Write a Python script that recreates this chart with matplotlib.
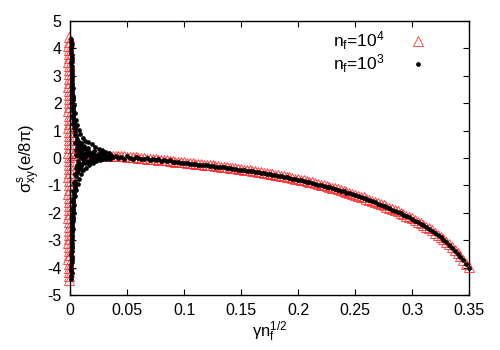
import numpy as np
import matplotlib
matplotlib.use("Agg")
import matplotlib.pyplot as plt

plt.rcParams['font.family'] = ['Liberation Sans', 'DejaVu Sans']
plt.rcParams['mathtext.fontset'] = 'custom'
plt.rcParams['mathtext.rm'] = 'Liberation Sans'
plt.rcParams['mathtext.it'] = 'Liberation Sans'
plt.rcParams['axes.unicode_minus'] = False

# n_f = 10^4 : column of oscillating points at gamma ~ 0
red_col_x = [-0.0013, -0.0008, -0.0015, -0.0010, -0.0012, -0.0006, -0.0014, -0.0009,
             -0.0011, -0.0007, -0.0013, -0.0010, -0.0015, -0.0008, -0.0012, -0.0009]
red_col_y = [4.40, 4.25, 4.10, 3.95, 3.80, 3.65, 3.50, 3.35, 3.20, 3.05, 2.90, 2.75,
             2.60, 2.45, 2.30, 2.15, 2.00, 1.85, 1.70, 1.55, 1.40, 1.25, 1.10, 0.95,
             0.80, 0.65, 0.50, 0.35, 0.20, 0.05, -0.10, -0.25, -0.40, -0.55, -0.70,
             -0.85, -1.00, -1.15, -1.30, -1.45, -1.60, -1.75, -1.90, -2.05, -2.20,
             -2.35, -2.50, -2.65, -2.80, -2.95, -3.10, -3.25, -3.40, -3.55, -3.70,
             -3.85, -4.00, -4.15, -4.30, -4.45]

# common gamma grid of the smooth branch
gamma = [0.0025, 0.0050, 0.0075, 0.0100, 0.0125, 0.0150, 0.0175, 0.0200, 0.0225,
         0.0250, 0.0275, 0.0300, 0.0325, 0.0350, 0.0375,
         0.0400, 0.0425, 0.0450, 0.0475, 0.0500, 0.0525, 0.0550, 0.0575, 0.0600,
         0.0625, 0.0650, 0.0675, 0.0700, 0.0725, 0.0750, 0.0775, 0.0800, 0.0825,
         0.0850, 0.0875, 0.0900, 0.0925, 0.0950, 0.0975, 0.1000, 0.1025, 0.1050,
         0.1075, 0.1100, 0.1125, 0.1150, 0.1175, 0.1200, 0.1225, 0.1250, 0.1275,
         0.1300, 0.1325, 0.1350, 0.1375, 0.1400, 0.1425, 0.1450, 0.1475, 0.1500,
         0.1525, 0.1550, 0.1575, 0.1600, 0.1625, 0.1650, 0.1675, 0.1700, 0.1725,
         0.1750, 0.1775, 0.1800, 0.1825, 0.1850, 0.1875, 0.1900, 0.1925, 0.1950,
         0.1975, 0.2000, 0.2025, 0.2050, 0.2075, 0.2100, 0.2125, 0.2150, 0.2175,
         0.2200, 0.2225, 0.2250, 0.2275, 0.2300, 0.2325, 0.2350, 0.2375, 0.2400,
         0.2425, 0.2450, 0.2475, 0.2500, 0.2525, 0.2550, 0.2575, 0.2600, 0.2625,
         0.2650, 0.2675, 0.2700, 0.2725, 0.2750, 0.2775, 0.2800, 0.2825, 0.2850,
         0.2875, 0.2900, 0.2925, 0.2950, 0.2975, 0.3000, 0.3025, 0.3050, 0.3075,
         0.3100, 0.3125, 0.3150, 0.3175, 0.3200, 0.3225, 0.3250, 0.3275, 0.3300,
         0.3325, 0.3350, 0.3375, 0.3400, 0.3425, 0.3450, 0.3475, 0.3500]

# n_f = 10^4 : smooth branch (on the full grid)
red_y = [0.12, 0.12, 0.11, 0.11, 0.11, 0.11, 0.10, 0.10, 0.10,
         0.10, 0.10, 0.10, 0.10, 0.09, 0.09,
         0.09, 0.08, 0.07, 0.06, 0.05, 0.04, 0.03, 0.02, 0.01,
         0.00, -0.01, -0.02, -0.03, -0.04, -0.05, -0.06, -0.07, -0.08,
         -0.09, -0.10, -0.12, -0.13, -0.14, -0.15, -0.16, -0.17, -0.18,
         -0.19, -0.20, -0.21, -0.23, -0.24, -0.25, -0.26, -0.27, -0.28,
         -0.30, -0.31, -0.32, -0.34, -0.35, -0.36, -0.38, -0.39, -0.41,
         -0.42, -0.44, -0.45, -0.47, -0.48, -0.50, -0.52, -0.54, -0.55,
         -0.57, -0.59, -0.61, -0.62, -0.64, -0.66, -0.68, -0.70, -0.73,
         -0.75, -0.77, -0.79, -0.82, -0.84, -0.87, -0.89, -0.92, -0.94,
         -0.97, -0.99, -1.02, -1.05, -1.08, -1.11, -1.14, -1.17, -1.20,
         -1.23, -1.27, -1.30, -1.34, -1.37, -1.41, -1.44, -1.48, -1.52,
         -1.56, -1.60, -1.64, -1.68, -1.72, -1.77, -1.81, -1.86, -1.90,
         -1.95, -2.00, -2.05, -2.10, -2.15, -2.20, -2.26, -2.32, -2.38,
         -2.44, -2.50, -2.57, -2.64, -2.72, -2.80, -2.88, -2.97, -3.06,
         -3.15, -3.25, -3.36, -3.47, -3.59, -3.71, -3.85, -3.98]

# n_f = 10^3 : smooth branch (grid from 0.04 on)
black_y = [0.07, 0.00, 0.04, -0.02, 0.06, 0.00, -0.03, 0.03, 0.01,
           -0.05, -0.03, 0.00, -0.07, -0.04, -0.08, -0.03, -0.10, -0.07,
           -0.12, -0.09, -0.14, -0.15, -0.16, -0.17, -0.18, -0.19, -0.20,
           -0.21, -0.22, -0.24, -0.25, -0.26, -0.27, -0.28, -0.29, -0.31,
           -0.32, -0.33, -0.34, -0.36, -0.37, -0.39, -0.40, -0.42, -0.43,
           -0.45, -0.46, -0.48, -0.49, -0.51, -0.52, -0.54, -0.56, -0.58,
           -0.59, -0.61, -0.63, -0.65, -0.66, -0.68, -0.70, -0.73, -0.75,
           -0.77, -0.79, -0.82, -0.84, -0.87, -0.89, -0.92, -0.94, -0.97,
           -0.99, -1.02, -1.04, -1.07, -1.10, -1.13, -1.16, -1.19, -1.22,
           -1.26, -1.29, -1.33, -1.36, -1.40, -1.43, -1.47, -1.50, -1.54,
           -1.58, -1.62, -1.66, -1.70, -1.74, -1.79, -1.83, -1.88, -1.92,
           -1.97, -2.02, -2.07, -2.12, -2.17, -2.22, -2.28, -2.34, -2.40,
           -2.46, -2.52, -2.59, -2.66, -2.74, -2.82, -2.90, -2.99, -3.08,
           -3.17, -3.27, -3.38, -3.49, -3.61, -3.73, -3.86, -4.00]

# n_f = 10^3 : oscillating part near gamma ~ 0
black_osc_x = [0.0012, 0.0014, 0.0012, 0.0016, 0.0014, 0.0018, 0.0016, 0.0020, 0.0018,
               0.0024, 0.0020, 0.0028, 0.0022, 0.0032, 0.0026, 0.0040, 0.0030, 0.0050,
               0.0034, 0.0062, 0.0040, 0.0075, 0.0046, 0.0090, 0.0055, 0.0110, 0.0065,
               0.0130, 0.0160, 0.0080, 0.0190, 0.0100, 0.0220, 0.0120, 0.0250, 0.0280,
               0.0150, 0.0310, 0.0175, 0.0340, 0.0205, 0.0235, 0.0265, 0.0295,
               0.0012, 0.0014, 0.0012, 0.0016, 0.0014, 0.0018, 0.0016, 0.0020, 0.0018,
               0.0024, 0.0020, 0.0028, 0.0022, 0.0032, 0.0026, 0.0038, 0.0030, 0.0046,
               0.0034, 0.0056, 0.0040, 0.0066, 0.0046, 0.0080, 0.0055, 0.0095, 0.0065,
               0.0115, 0.0140, 0.0080, 0.0170, 0.0100, 0.0200, 0.0230, 0.0125, 0.0260,
               0.0290, 0.0320,
               0.0050, 0.0070, 0.0090, 0.0110, 0.0130, 0.0160, 0.0180, 0.0210, 0.0240,
               0.0270, 0.0300, 0.0330, 0.0360, 0.0380, 0.0355, 0.0085, 0.0105, 0.0145,
               0.0060, 0.0120, 0.0195,
               0.0010, 0.0013, 0.0011, 0.0015, 0.0013, 0.0017, 0.0015, 0.0019, 0.0017,
               0.0021, 0.0019, 0.0024, 0.0021, 0.0027, 0.0024, 0.0030, 0.0027, 0.0036,
               0.0030, 0.0044,
               0.0010, 0.0013, 0.0011, 0.0015, 0.0013, 0.0017, 0.0015, 0.0019, 0.0017,
               0.0021, 0.0019, 0.0024, 0.0021, 0.0027, 0.0024, 0.0030, 0.0027, 0.0036,
               0.0030, 0.0044,
               0.0070, 0.0095, 0.0115, 0.0135, 0.0150, 0.0170, 0.0185, 0.0225, 0.0255,
               0.0285, 0.0315, 0.0345, 0.0075, 0.0100, 0.0140, 0.0165, 0.0215, 0.0245,
               0.0035, 0.0045, 0.0040, 0.0055, 0.0050, 0.0065, 0.0060, 0.0080, 0.0075,
               0.0090, 0.0105, 0.0120, 0.0035, 0.0045, 0.0050, 0.0060, 0.0070, 0.0085,
               0.0100, 0.0130, 0.0155, 0.0180]
black_osc_y = [4.35, 4.15, 3.95, 3.75, 3.55, 3.35, 3.15, 2.95, 2.75,
               2.55, 2.40, 2.25, 2.10, 1.95, 1.80, 1.65, 1.52, 1.40,
               1.30, 1.20, 1.10, 1.02, 0.95, 0.88, 0.80, 0.74, 0.68,
               0.62, 0.58, 0.55, 0.50, 0.45, 0.40, 0.36, 0.32, 0.28,
               0.25, 0.22, 0.18, 0.18, 0.14, 0.10, 0.12, 0.06,
               -4.40, -4.20, -4.00, -3.80, -3.60, -3.40, -3.20, -3.00, -2.80,
               -2.60, -2.45, -2.30, -2.15, -2.00, -1.85, -1.70, -1.55, -1.40,
               -1.28, -1.15, -1.05, -0.95, -0.85, -0.75, -0.65, -0.58, -0.50,
               -0.42, -0.35, -0.30, -0.27, -0.22, -0.18, -0.12, -0.12, -0.08,
               -0.04, -0.02,
               0.10, -0.10, 0.20, -0.05, 0.05, 0.10, -0.05, 0.25, -0.02,
               0.20, 0.15, 0.05, 0.12, 0.03, -0.05, 0.30, 0.10, -0.15,
               -0.25, 0.15, 0.02,
               4.25, 4.05, 3.85, 3.65, 3.45, 3.25, 3.05, 2.85, 2.65,
               2.48, 2.32, 2.18, 2.02, 1.88, 1.72, 1.58, 1.46, 1.35,
               1.25, 1.15,
               -4.30, -4.10, -3.90, -3.70, -3.50, -3.30, -3.10, -2.90, -2.70,
               -2.52, -2.38, -2.22, -2.08, -1.92, -1.78, -1.62, -1.48, -1.34,
               -1.22, -1.10,
               0.40, -0.20, 0.35, 0.00, 0.30, 0.22, 0.05, 0.08, 0.16,
               -0.03, 0.09, 0.02, 0.60, 0.55, 0.20, -0.10, -0.08, 0.04,
               1.10, 0.85, 0.55, 0.60, 0.30, 0.40, 0.10, 0.25, 0.50,
               0.05, 0.28, 0.45, -0.90, -0.60, -0.35, -0.50, -0.25, -0.40,
               -0.30, -0.18, 0.35, -0.15]

x_ticks = [0, 0.05, 0.1, 0.15, 0.2, 0.25, 0.3, 0.35]
x_tick_labels = ["0", "0.05", "0.1", "0.15", "0.2", "0.25", "0.3", "0.35"]
y_ticks = [-5, -4, -3, -2, -1, 0, 1, 2, 3, 4, 5]

fig = plt.figure(figsize=(5, 3.5), dpi=100)
ax = fig.add_axes([0.14, 0.157, 0.798, 0.783])

tri_style = dict(linestyle='none', marker='^', markersize=7, markerfacecolor='none',
                 markeredgecolor='#ff3030', markeredgewidth=0.6, clip_on=False)
ax.plot(red_col_x * 3 + red_col_x[:12], red_col_y, **tri_style)
ax.plot(gamma, red_y, label="n$_{\\rm f}$=10$^{4}$", **tri_style)

dot_style = dict(linestyle='none', marker='o', markersize=3.4, color='black',
                 markeredgewidth=0, clip_on=False)
ax.plot(black_osc_x, black_osc_y, **dot_style)
ax.plot(gamma[15:], black_y, label="n$_{\\rm f}$=10$^{3}$", **dot_style)

ax.set_xlim(0, 0.35)
ax.set_ylim(-5, 5)
ax.set_xticks(x_ticks)
ax.set_xticklabels(x_tick_labels)
ax.set_yticks(y_ticks)
ax.tick_params(direction='in', top=True, right=True, length=4, width=0.8,
               labelsize=11.5, pad=6)
for s in ax.spines.values():
    s.set_linewidth(1.0)

ax.set_xlabel("\u03b3n$_{\\rm f}^{1/2}$", fontsize=12, labelpad=1)
ax.set_ylabel("\u03c3$^{\\rm s}_{\\rm xy}$(e/8\u03c0)", fontsize=12, labelpad=3)

ax.legend(loc='upper right', markerfirst=False, frameon=False, fontsize=12.5,
          handlelength=1.2, handletextpad=1.3, labelspacing=0.0,
          borderaxespad=0.1, bbox_to_anchor=(0.92, 1.0), markerscale=1.0)

fig.savefig("out.png", dpi=100)
